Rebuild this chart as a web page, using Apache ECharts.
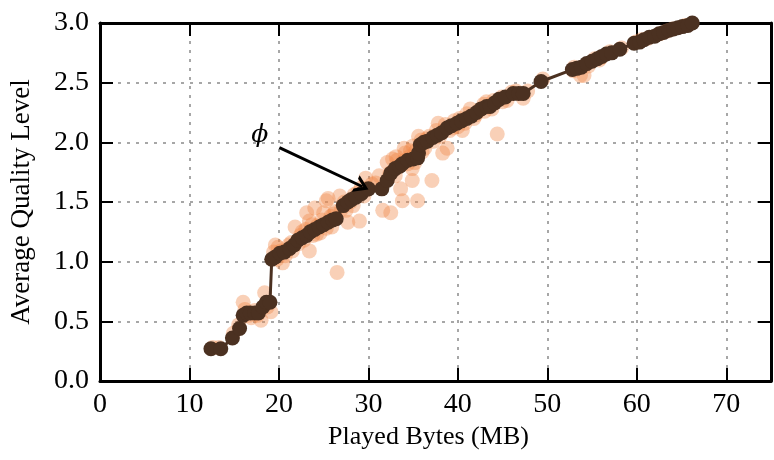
<!DOCTYPE html>
<html>
<head>
<meta charset="utf-8">
<script src="https://cdn.jsdelivr.net/npm/echarts@6/dist/echarts.min.js"></script>
<style>html,body{margin:0;padding:0;background:#fff}#c{width:774px;height:460px}</style>
</head>
<body>
<div id="c"></div>
<script>
// Played bytes (MB) vs average quality level
const xTicks = [0, 10, 20, 30, 40, 50, 60, 70];
const yTicks = [0.0, 0.5, 1.0, 1.5, 2.0, 2.5, 3.0];

// light orange scatter (individual runs)
const runsPoints = [
[12.6,0.28],[13.3,0.28],[14.9,0.40],[15.5,0.47],[16.0,0.66],[16.2,0.60],[16.6,0.55],[16.9,0.53],[17.3,0.59],[17.6,0.55],
[18.0,0.51],[18.4,0.74],[18.7,0.62],[19.1,0.58],[19.4,1.08],[19.6,1.14],[19.9,1.12],[20.4,0.99],[20.7,1.05],[21.0,1.10],
[21.4,1.16],[21.8,1.29],[22.2,1.15],[22.6,1.25],[22.8,1.18],[23.1,1.41],[23.4,1.34],[23.4,1.09],[23.8,1.22],[24.0,1.45],
[24.3,1.30],[24.6,1.24],[25.0,1.41],[25.3,1.51],[25.5,1.53],[25.9,1.29],[26.1,1.40],[26.5,0.91],[26.8,1.55],[27.0,1.44],
[27.5,1.43],[27.7,1.33],[28.0,1.50],[28.4,1.56],[29.0,1.34],[29.2,1.62],[29.7,1.70],[30.4,1.65],[31.2,1.72],[31.6,1.43],
[32.1,1.83],[32.5,1.41],[32.7,1.86],[33.0,1.72],[33.2,1.85],[33.4,1.80],[33.6,1.61],[33.8,1.51],[34.0,1.95],[34.1,1.91],
[34.4,1.82],[34.6,1.88],[34.9,1.78],[34.9,1.68],[35.0,1.97],[35.3,1.93],[35.5,1.51],[35.6,2.05],[35.9,2.02],[36.3,1.95],
[36.8,2.05],[37.1,1.68],[37.6,2.10],[37.8,2.16],[38.3,1.91],[38.8,1.95],[39.1,2.10],[39.6,2.18],[40.0,2.13],[40.5,2.10],
[41.0,2.24],[41.4,2.28],[41.8,2.20],[42.4,2.27],[42.9,2.32],[43.2,2.34],[43.8,2.28],[44.4,2.07],[44.9,2.38],[45.5,2.35],
[46.0,2.42],[47.3,2.37],[47.8,2.43],[49.5,2.53],[53.0,2.63],[53.7,2.56],[54.1,2.56],[54.6,2.64],[55.3,2.70],[56.0,2.71],
[57.0,2.76],[58.3,2.79],[59.9,2.84],[61.2,2.87],[62.6,2.91],[64.0,2.95],[65.4,2.98],
[19.8,1.02],[20.2,1.09],[21.1,1.14],[21.5,1.09],[22.4,1.22],[23.0,1.27],[23.7,1.31],[24.2,1.23],[24.8,1.35],[25.3,1.28],
[25.8,1.38],[26.3,1.42],[27.3,1.50],[28.3,1.47],[28.8,1.58],[29.5,1.55],[30.8,1.66],[32.4,1.74],[33.1,1.88],[33.9,1.84],
[34.7,1.93],[35.2,1.83],[36.0,1.92],[36.5,2.03],[37.3,2.01],[38.0,2.05],[38.6,2.15],[39.4,2.12],[40.2,2.20],[40.8,2.16],
[42.0,2.23],[43.0,2.26],[44.0,2.35],[45.0,2.34],[46.5,2.43],[52.9,2.60],[55.8,2.69],[60.5,2.86],[63.3,2.93]
];

// dark brown line (phi)
const phiPoints = [
[12.4,0.27],[13.5,0.27],[14.8,0.36],[15.6,0.44],[16.0,0.55],[16.4,0.57],[16.8,0.57],[17.3,0.57],[17.7,0.57],[18.2,0.62],
[18.6,0.66],[19.0,0.66],[19.2,1.02],[19.6,1.04],[20.1,1.07],[20.6,1.08],[21.2,1.11],[21.7,1.14],[22.1,1.18],[22.6,1.20],
[23.1,1.22],[23.5,1.25],[24.0,1.27],[24.5,1.29],[25.0,1.31],[25.5,1.33],[26.0,1.35],[26.4,1.36],[27.2,1.47],[27.7,1.50],
[28.1,1.52],[28.6,1.54],[29.2,1.57],[30.0,1.61],[31.5,1.61],[32.1,1.68],[32.5,1.74],[33.0,1.78],[33.5,1.80],[33.8,1.82],
[34.4,1.85],[35.0,1.86],[35.5,1.87],[35.6,1.91],[35.8,1.98],[36.2,2.00],[36.6,2.01],[37.2,2.04],[37.7,2.06],[38.2,2.08],
[38.8,2.12],[39.3,2.14],[39.9,2.16],[40.4,2.18],[41.0,2.20],[41.5,2.22],[42.1,2.25],[42.6,2.28],[43.2,2.30],[43.6,2.30],
[44.1,2.33],[44.6,2.36],[45.3,2.38],[46.2,2.41],[46.8,2.41],[47.3,2.41],[49.3,2.51],[52.8,2.61],[53.3,2.62],[53.8,2.63],
[54.4,2.66],[55.0,2.68],[55.6,2.70],[56.1,2.72],[56.6,2.74],[57.2,2.75],[58.1,2.78],[59.7,2.83],[60.3,2.84],[60.8,2.86],
[61.4,2.88],[62.0,2.89],[62.5,2.91],[63.0,2.92],[63.6,2.94],[64.1,2.95],[64.6,2.96],[65.1,2.97],[65.7,2.98],[66.2,3.00]
];

// annotation: label position and arrow (data coordinates)
const phiLabel = [17.85, 2.06];
const arrowFrom = [20.05, 1.955];
const arrowTo = [29.3, 1.63];

const serif = 'Liberation Serif';
const chart = echarts.init(document.getElementById('c'), null, {renderer: 'canvas'});

const gridLine = {show: true, lineStyle: {color: '#8a8a8a', width: 1.5, type: [3, 6]}};
const axLine = {show: true, onZero: false, lineStyle: {color: '#000', width: 3}};
const tick = {show: true, inside: true, length: 13, lineStyle: {color: '#000', width: 2}};

chart.setOption({
  animation: false,
  grid: {left: 99.5, right: -8, top: 23, bottom: 79, containLabel: false},
  xAxis: [{
    type: 'value', min: 0, max: 75, interval: 10,
    name: 'Played Bytes (MB)', nameLocation: 'middle', nameGap: 43,
    nameTextStyle: {fontFamily: serif, fontSize: 26, color: '#000', padding: [0, 14, 0, 0]},
    axisLine: axLine, axisTick: tick, splitLine: gridLine,
    axisLabel: {fontFamily: serif, fontSize: 28, color: '#000', margin: 10,
      formatter: v => xTicks.includes(v) ? String(v) : ''}
  }, {
    type: 'value', position: 'top', min: 0, max: 75, interval: 10,
    axisLine: axLine, axisTick: tick, splitLine: {show: false}, axisLabel: {show: false}
  }],
  yAxis: [{
    type: 'value', min: 0, max: 3, interval: 0.5,
    name: 'Average Quality Level', nameLocation: 'middle', nameGap: 65, nameRotate: 90,
    nameTextStyle: {fontFamily: serif, fontSize: 27, color: '#000'},
    axisLine: axLine, axisTick: tick, splitLine: gridLine,
    axisLabel: {fontFamily: serif, fontSize: 28, color: '#000', margin: 11,
      formatter: v => yTicks.some(t => Math.abs(t - v) < 1e-9) ? v.toFixed(1) : ''}
  }, {
    type: 'value', position: 'right', min: 0, max: 3, interval: 0.5,
    axisLine: axLine, axisTick: tick, splitLine: {show: false}, axisLabel: {show: false}
  }],
  series: [{
    type: 'scatter', data: runsPoints, symbolSize: 15,
    itemStyle: {color: 'rgba(240,138,75,0.5)'}, z: 2
  }, {
    type: 'line', data: phiPoints, symbol: 'circle', symbolSize: 15, showSymbol: true,
    lineStyle: {color: '#4b3121', width: 3}, itemStyle: {color: '#4b3121'}, z: 3,
    markLine: {
      silent: true,
      symbol: ['none', 'path://M0,10 L5,0 L10,10 L8,10 L5,4 L2,10 Z'], symbolSize: [18, 14],
      lineStyle: {color: '#000', width: 3, type: 'solid'}, label: {show: false},
      data: [[{coord: arrowFrom}, {coord: arrowTo}]]
    },
    markPoint: {
      silent: true, symbol: 'circle', symbolSize: 0,
      label: {show: true, formatter: '\u03d5', fontFamily: 'DejaVu Serif', fontStyle: 'italic',
        fontSize: 25, color: '#000', position: 'inside'},
      data: [{coord: phiLabel}]
    }
  }]
});
</script>
</body>
</html>
